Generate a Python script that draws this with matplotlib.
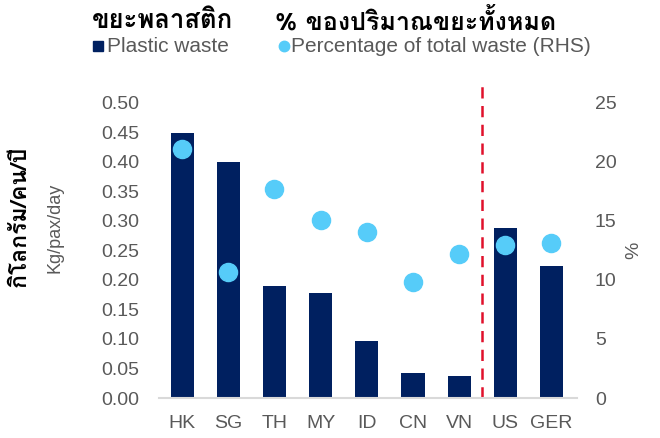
import matplotlib
matplotlib.use("Agg")
import matplotlib.pyplot as plt
from matplotlib import font_manager
from matplotlib.ft2font import FT2Font
from matplotlib.lines import Line2D
import numpy as np

countries = ['HK', 'SG', 'TH', 'MY', 'ID', 'CN', 'VN', 'US', 'GER']
plastic_waste = [0.449, 0.400, 0.190, 0.178, 0.097, 0.042, 0.037, 0.288, 0.224]
pct_total = [21.1, 10.7, 17.7, 15.1, 14.1, 9.8, 12.2, 13.0, 13.1]

navy = '#002060'
light_blue = '#56CCF9'
grey = '#595959'


def find_thai_font():
    # look for any installed font that has Thai glyphs
    for f in font_manager.fontManager.ttflist:
        try:
            if ord('ข') in FT2Font(f.fname).get_charmap():
                return f.name
        except Exception:
            continue
    return None


thai = find_thai_font()
base = ['Liberation Sans', 'DejaVu Sans']
thai_fam = ([thai] if thai else []) + base
plt.rcParams['font.family'] = base

fig = plt.figure(figsize=(6.6, 4.38), dpi=100)
ax = fig.add_axes([0.241, 0.0913, 0.633, 0.674])
ax2 = ax.twinx()

x = np.arange(len(countries))
ax.bar(x, plastic_waste, width=0.5, color=navy, zorder=2)
ax2.scatter(x, pct_total, s=170, color=light_blue, zorder=3)
ax.axvline(6.5, ymin=0, ymax=1.078, color='#E0102B', linestyle=(0, (4.5, 3)),
           linewidth=1.8, clip_on=False)

ax.set_xlim(-0.5, 8.55)
ax.set_ylim(0, 0.5)
ax.set_yticks(np.arange(0, 0.501, 0.05))
ax.set_yticklabels(['%.2f' % v for v in np.arange(0, 0.501, 0.05)])
ax2.set_ylim(0, 25)
ax2.set_yticks(range(0, 26, 5))
ax.set_xticks(x)
ax.set_xticklabels(countries)

for a in (ax, ax2):
    for s in a.spines.values():
        s.set_visible(False)
    a.tick_params(length=0, labelsize=14, labelcolor=grey)
ax.spines['bottom'].set_visible(True)
ax.spines['bottom'].set_color('#D9D9D9')
ax.spines['bottom'].set_linewidth(1.5)
ax.tick_params(axis='y', pad=14)
ax.tick_params(axis='x', pad=12)
ax2.tick_params(axis='y', pad=13)

ax2.set_ylabel('%', fontsize=14, color=grey, labelpad=6)
fig.text(0.083, 0.479, 'Kg/pax/day', rotation=90, fontsize=13, color=grey,
         ha='center', va='center')
fig.text(0.03, 0.505, 'กิโลกรัม/คน/ปี', rotation=90, fontsize=16.5, fontweight='bold',
         ha='center', va='center', family=thai_fam)

fig.text(0.139, 0.952, 'ขยะพลาสติก', fontsize=18.5, fontweight='bold',
         ha='left', va='center', family=thai_fam)
fig.text(0.417, 0.952, '% ของปริมาณขยะทั้งหมด', fontsize=18, fontweight='bold',
         ha='left', va='center', family=thai_fam)

# legend drawn by hand so the two entries sit under their headers
leg_y = 1 - 46 / 438
fig.add_artist(Line2D([98 / 660], [leg_y], marker='s', color=navy, markersize=7,
                      linestyle='none', transform=fig.transFigure))
fig.text(107 / 660, leg_y, 'Plastic waste', fontsize=15, color=grey,
         ha='left', va='center')
fig.add_artist(Line2D([284 / 660], [leg_y], marker='o', color=light_blue, markersize=7.5,
                      linestyle='none', transform=fig.transFigure))
fig.text(291 / 660, leg_y, 'Percentage of total waste (RHS)', fontsize=15, color=grey,
         ha='left', va='center')

fig.savefig('out.png', dpi=100)
